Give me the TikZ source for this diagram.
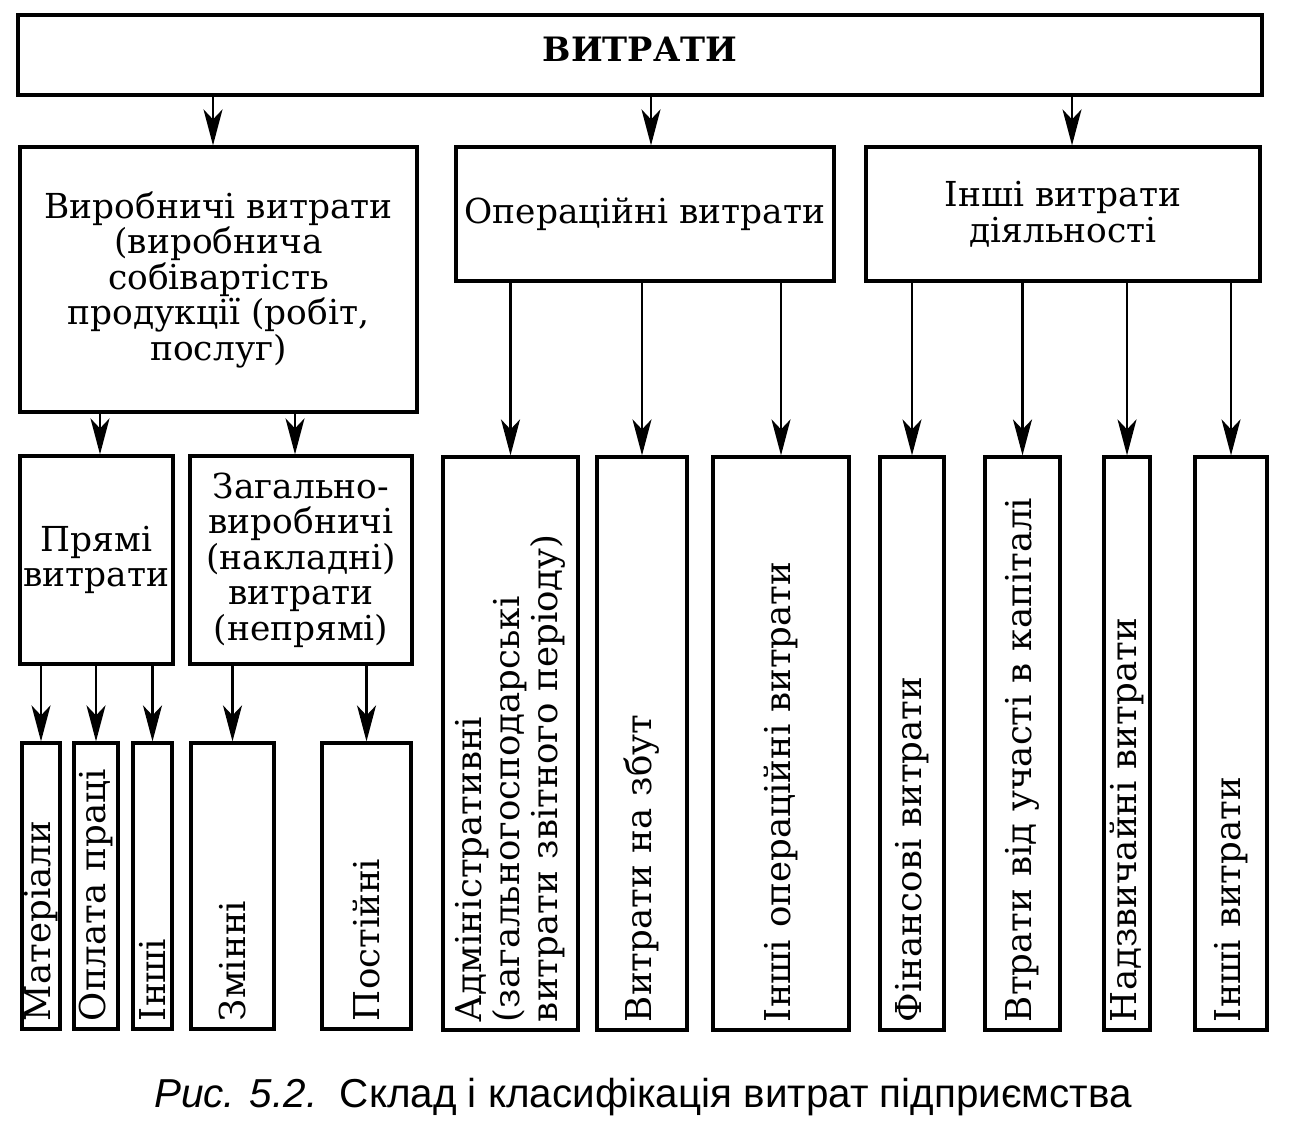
\documentclass[tikz,border=0pt]{standalone}
\usepackage{fontspec}
\setmainfont{DejaVu Serif}
\newfontfamily\capfont{Liberation Sans}
\usetikzlibrary{arrows.meta}
\newcommand\mainfs{\fontsize{17.2}{17.75}\selectfont}
\newcommand\vertfs{\fontsize{17.8}{19}\selectfont}
\begin{document}
\begin{tikzpicture}[x=0.5pt,y=-0.5pt,
  box/.style={draw, line width=1.6pt, inner sep=0pt, align=center, font=\mainfs},
  hbox/.style 2 args={box, minimum width=#1*0.5pt, minimum height=#2*0.5pt},
  vbox/.style={box, rotate=90, minimum height=#1*0.5pt, inner xsep=4pt, align=left, font=\vertfs},
  vshort/.style={vbox=#1, minimum width=143pt, text width=135pt},
  vlong/.style={vbox=#1, minimum width=286.5pt, text width=278.5pt},
  arr/.style={line width=1.1pt, -{Stealth[length=18pt,width=9.5pt,inset=5pt]}}]
\fill[white] (0,0) rectangle (1294,1143);
\useasboundingbox (0,0) rectangle (1294,1143);

% level 1
\node[hbox={1244}{80}, font=\bfseries\fontsize{16.8}{20}\selectfont, text depth=6pt] (top) at (640,55) {ВИТРАТИ};

% level 2
\node[hbox={397}{265}] (vyr) at (218.5,279.5) {Виробничі витрати\\(виробнича\\собівартість\\продукції (робіт,\\послуг)};
\node[hbox={378}{134}] (oper) at (645,214) {Операційні витрати};
\node[hbox={394}{134}] (inshi) at (1063,214) {Інші витрати\\діяльності};

% level 3 (left)
\node[hbox={153}{208}] (pryami) at (96.5,560) {Прямі\\витрати};
\node[hbox={222}{208}] (zag) at (301,560) {Загально-\\виробничі\\(накладні)\\витрати\\(непрямі)};

% bottom left boxes
\node[vshort=38] (mat) at (41,886) {Матеріали};
\node[vshort=44] (opl) at (96,886) {Оплата праці};
\node[vshort=39] (insh1) at (152.5,886) {Інші};
\node[vshort=83] (zmin) at (232.5,886) {Змінні};
\node[vshort=89] (post) at (366.5,886) {Постійні};

% operational
\node[vlong=135] (adm) at (510.5,743.5) {Адміністративні\\(загальногосподарські\\витрати звітного періоду)};
\node[vlong=90] (zbut) at (642,743.5) {Витрати на збут};
\node[vlong=136] (inop) at (781,743.5) {Інші операційні витрати};

% other
\node[vlong=64] (fin) at (912,743.5) {Фінансові витрати};
\node[vlong=75] (vtr) at (1022.5,743.5) {Втрати від участі в капіталі};
\node[vlong=46] (nadz) at (1127,743.5) {Надзвичайні витрати};
\node[vlong=72] (inv) at (1231,743.5) {Інші витрати};

% arrows level 1 -> 2
\draw[arr] ([xshift=-2.75pt]vyr.north |- top.south) -- ([xshift=-2.75pt]vyr.north);
\draw[arr] ([xshift=3pt]oper.north |- top.south) -- ([xshift=3pt]oper.north);
\draw[arr] ([xshift=4.5pt]inshi.north |- top.south) -- ([xshift=4.5pt]inshi.north);

% arrows vyr -> level 3
\draw[arr] ([xshift=1.75pt]pryami.north |- vyr.south) -- ([xshift=1.75pt]pryami.north);
\draw[arr] ([xshift=-3pt]zag.north |- vyr.south) -- ([xshift=-3pt]zag.north);

% arrows to bottom left
\foreach \t in {mat,opl,insh1}
  \draw[arr] (\t.east |- pryami.south) -- (\t.east);
\foreach \t in {zmin,post}
  \draw[arr] (\t.east |- zag.south) -- (\t.east);

% arrows operational
\foreach \t in {adm,zbut,inop}
  \draw[arr] (\t.east |- oper.south) -- (\t.east);

% arrows other
\foreach \t in {fin,vtr,nadz,inv}
  \draw[arr] (\t.east |- inshi.south) -- (\t.east);

% caption
\node[font=\capfont\fontsize{20.2}{22}\selectfont] (cap) at (643,1097) {\textit{Рис. 5.2.}\ \ Склад і класифікація витрат підприємства};
\end{tikzpicture}
\end{document}
